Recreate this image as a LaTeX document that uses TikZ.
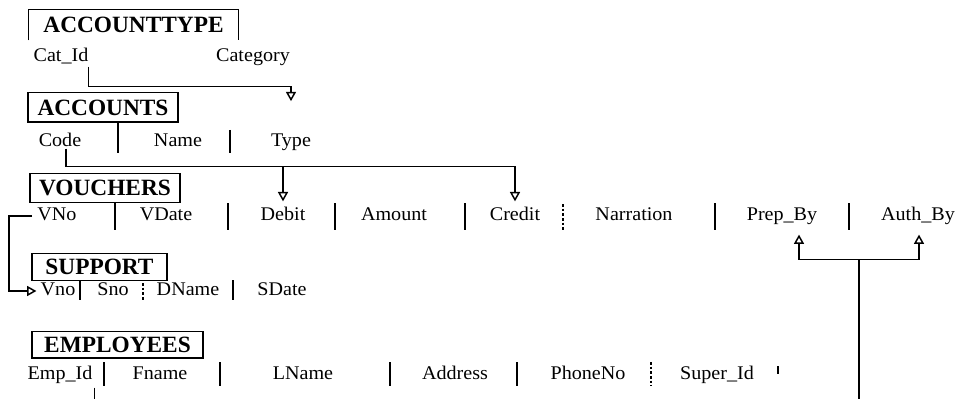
\documentclass[tikz,border=0pt]{standalone}
\usepackage{fontspec}
\setmainfont{Liberation Serif}
\newfontfamily\fieldfont[FakeStretch=1.04]{Liberation Serif}
\usetikzlibrary{arrows.meta,calc}
\begin{document}
\begin{tikzpicture}[x=0.75pt,y=-0.75pt,
  tbl/.style={font=\bfseries\fontsize{17.5}{20}\selectfont, inner sep=0pt,
              minimum height=22pt, line width=1pt},
  fld/.style={font=\fieldfont\fontsize{14.5}{17}\selectfont, inner sep=0pt,
              text height=10.5pt, text depth=3.5pt},
  sep/.style={line width=1pt},
  dsep/.style={line width=0.9pt, dash pattern=on 2pt off 1.5pt},
  fk/.style={line width=1.1pt, -{Triangle[open,length=7pt,width=7.5pt]}},
  cut/.style={line width=1.1pt}]
\useasboundingbox (0,0) rectangle (967,399);
\coordinate (bl) at (0,399);

% ---- ACCOUNTTYPE (frame open at the bottom)
\node[tbl, minimum width=156.75pt] (acctype) at (133.5,25) {ACCOUNTTYPE};
\draw[line width=1pt] (acctype.south west) |- (acctype.north east) -- (acctype.south east);
\node[fld] (catid)    at (61,57)  {Cat\_Id};
\node[fld] (category) at (253,57) {Category};

% ---- ACCOUNTS
\node[tbl, draw, minimum width=112.5pt] (acc) at (103,107.5) {ACCOUNTS};
\node[fld] (code) at (60,142)  {Code};
\node[fld] (name) at (178,142) {Name};
\node[fld] (type) at (291,142) {Type};
\draw[sep] (118,122) -- (118,153);
\draw[sep] (230,130) -- (230,153);

% ---- VOUCHERS
\node[tbl, draw, minimum width=112.5pt] (vou) at (105,188) {VOUCHERS};
\node[fld] (vno)       at (57,216)  {VNo};
\node[fld] (vdate)     at (166,216) {VDate};
\node[fld] (debit)     at (283,216) {Debit};
\node[fld] (amount)    at (394,216) {Amount};
\node[fld] (credit)    at (515,216) {Credit};
\node[fld] (narration) at (634,216) {Narration};
\node[fld] (prepby)    at (782,216) {Prep\_By};
\node[fld] (authby)    at (918,216) {Auth\_By};
\foreach \x in {115,228,335,465,715,849}
  \draw[sep] (\x,203) -- (\x,230);
\draw[dsep] (563,204) -- (563,230);

% ---- SUPPORT
\node[tbl, draw, minimum width=101.25pt, minimum height=20pt] (sup) at (99.5,267) {SUPPORT};
\node[fld] (svno)  at (58,291)  {Vno};
\node[fld] (sno)   at (113,291) {Sno};
\node[fld] (dname) at (188,291) {DName};
\node[fld] (sdate) at (282,291) {SDate};
\draw[sep]  (80,280)  -- (80,300);
\draw[dsep] (143,283) -- (143,300);
\draw[sep]  (233,280) -- (233,300);

% ---- EMPLOYEES
\node[tbl, draw, minimum width=128.25pt, minimum height=20pt] (emp) at (117.5,344.5) {EMPLOYEES};
\node[fld] (empid)   at (60,375)  {Emp\_Id};
\node[fld] (fname)   at (160,375) {Fname};
\node[fld] (lname)   at (303,375) {LName};
\node[fld] (address) at (455,375) {Address};
\node[fld] (phone)   at (588,375) {PhoneNo};
\node[fld] (superid) at (717,375) {Super\_Id};
\foreach \x in {104,220,390,517}
  \draw[sep] (\x,362) -- (\x,386);
\draw[dsep] (651,362) -- (651,386);
\draw[sep] (778,366) -- (778,374);

% ---- foreign keys
% Cat_Id -> Type
\coordinate (j1) at ($(type.north |- catid.south)+(0,20)$);
\draw[fk] (catid.south east) |- (j1) -- ($(type |- acc.north)+(0,9)$);

% Code -> Debit, Credit
\coordinate (j2) at ($(credit.north |- code.south)+(0,15)$);
\draw[fk] ($(code.south)+(6,-3)$) |- (j2) -- ($(credit |- vou.south)+(0,-2)$);
\draw[fk] (debit |- j2) -- ($(debit |- vou.south)+(0,-2)$);

% VNo -> Vno
\draw[fk] ($(vno.west)+(-5,0)$) -- ++(-23,0) |- ($(svno.west)+(-4,0)$);

% Emp_Id -> Prep_By, Auth_By
\coordinate (ptip) at ($(prepby.south)+(17,9)$);
\coordinate (atip) at ($(authby.south)+(1,9)$);
\coordinate (jt) at ($(ptip)!.5!(atip)+(0,25)$);
\draw[cut] (jt) -- (jt |- bl);
\draw[fk] (jt) -| (ptip);
\draw[fk] (jt) -| (atip);
\coordinate (es) at ($(empid.south east)+(2,3)$);
\draw[cut] (es) -- (es |- bl);
\end{tikzpicture}
\end{document}
